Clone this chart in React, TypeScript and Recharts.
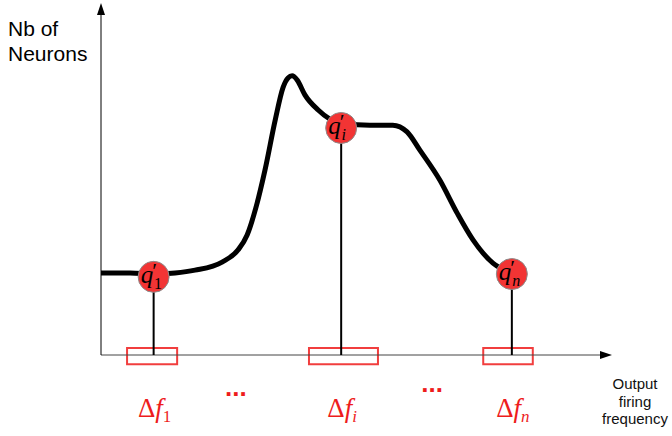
import React from "react";
import {
  ComposedChart,
  Line,
  Scatter,
  XAxis,
  YAxis,
  ReferenceLine,
  ReferenceArea,
  ReferenceDot,
} from "recharts";

// distribution of neurons over output firing frequency (arbitrary units)
const freq = [
  0, 5.7, 10.6, 14.5, 18.4, 23.7, 26.8, 28.6, 30.3, 32.1, 34.1, 35.6, 36.6,
  37.4, 38.4, 39.9, 42.5, 44.8, 47.7, 52.6, 57.1, 59.9, 62.4, 66.3, 69.7,
  72.8, 76.7, 80.4,
];
const neurons = [
  23.3, 23.3, 23.0, 23.3, 24.1, 26.4, 29.8, 34.1, 41.8, 52.6, 66.8, 75.9,
  78.7, 79.3, 78.1, 73.9, 69.6, 67.0, 65.6, 65.3, 65.3, 63.4, 58.2, 49.7,
  40.3, 32.7, 26.1, 23.3,
];

// sampled quantiles q'_1, q'_i, q'_n
const qSub = ["1", "i", "n"];
const qFreq = [10.3, 47.0, 80.4];
const qCount = [22.2, 64.5, 23.0];

// frequency bins Δf around each sample
const binLo = [5.1, 40.7, 74.8];
const binHi = [14.9, 54.2, 84.5];

// positions of the "..." between bins
const gapFreq = [26.4, 64.8];

const curve = freq.map((x, i) => ({ x, y: neurons[i] }));
const samples = qFreq.map((x, i) => ({ x, y: qCount[i], sub: qSub[i] }));

const RED = "#ee1c1c";
const SERIF = "'Liberation Serif', 'DejaVu Serif', serif";
const SANS = "'Liberation Sans', Arial, sans-serif";

const SampleDot = (props: any) => {
  const { cx, cy, payload } = props;
  const italicSub = payload.sub !== "1";
  return (
    <g>
      <circle cx={cx} cy={cy} r={15.5} fill="#f23434" stroke="#8c8c8c" strokeWidth={1} />
      <text x={cx - 13} y={cy + 6} fontFamily={SERIF} fill="#000">
        <tspan fontStyle="italic" fontSize={25}>q</tspan>
        <tspan dx={-1} dy={-5} fontSize={22}>′</tspan>
        <tspan dx={-3} dy={11} fontSize={16} fontStyle={italicSub ? "italic" : "normal"}>
          {payload.sub}
        </tspan>
      </text>
    </g>
  );
};

const binLabel = (sub: string) => (props: any) => {
  const { cx, cy } = props;
  return (
    <text x={cx + 1} y={cy + 62} textAnchor="middle" fontFamily={SERIF} fontSize={27} fill={RED}>
      <tspan>Δ</tspan>
      <tspan fontStyle="italic">f</tspan>
      <tspan dy={5} fontSize={17} fontStyle={sub === "1" ? "normal" : "italic"}>
        {sub}
      </tspan>
    </text>
  );
};

const gapDots = (dy: number) => (props: any) => {
  const { cx, cy } = props;
  return (
    <text x={cx} y={cy + dy} textAnchor="middle" fontFamily={SANS} fontWeight="bold" fontSize={26} fill={RED}>
      ...
    </text>
  );
};

const xArrow = (props: any) => {
  const { cx, cy } = props;
  return (
    <g>
      <polygon points={`${cx},${cy} ${cx - 12},${cy - 4} ${cx - 12},${cy + 4}`} fill="#000" />
      <text textAnchor="middle" fontFamily={SANS} fontSize={15} fill="#111">
        <tspan x={cx + 23} y={cy + 34}>Output</tspan>
        <tspan x={cx + 23} y={cy + 52}>firing</tspan>
        <tspan x={cx + 23} y={cy + 69}>frequency</tspan>
      </text>
    </g>
  );
};

const yArrow = (props: any) => {
  const { cx, cy } = props;
  return (
    <g>
      <polygon points={`${cx},${cy} ${cx - 4},${cy + 12} ${cx + 4},${cy + 12}`} fill="#000" />
      <text fontFamily={SANS} fontSize={21} fill="#000">
        <tspan x={cx - 93} y={cy + 33}>Nb of</tspan>
        <tspan x={cx - 93} y={cy + 58}>Neurons</tspan>
      </text>
    </g>
  );
};

export default function App() {
  return (
    <div style={{ position: "absolute", left: 0, top: 0, background: "#fff" }}>
      <ComposedChart
        width={672}
        height={436}
        margin={{ top: 3, right: 60, left: 101, bottom: 81 }}
      >
        <XAxis type="number" dataKey="x" domain={[0, 100]} hide />
        <YAxis type="number" dataKey="y" domain={[0, 100]} hide width={0} />

        {/* axes with arrowheads */}
        <ReferenceLine segment={[{ x: 0, y: 0 }, { x: 98, y: 0 }]} stroke="#444" strokeWidth={1} ifOverflow="visible" />
        <ReferenceLine segment={[{ x: 0, y: 0 }, { x: 0, y: 97 }]} stroke="#000" strokeWidth={1} ifOverflow="visible" />
        <ReferenceDot x={100} y={0} shape={xArrow} ifOverflow="visible" />
        <ReferenceDot x={0} y={100} shape={yArrow} ifOverflow="visible" />

        {/* frequency bins */}
        {binLo.map((lo, i) => (
          <ReferenceArea
            key={`bin-${i}`}
            x1={lo}
            x2={binHi[i]}
            y1={-2.6}
            y2={2.0}
            fill="none"
            fillOpacity={0}
            stroke={RED}
            strokeWidth={2}
            strokeOpacity={0.85}
            ifOverflow="visible"
          />
        ))}

        {/* stems from each sample down to the axis */}
        {samples.map((s, i) => (
          <ReferenceLine
            key={`stem-${i}`}
            segment={[{ x: s.x, y: s.y }, { x: s.x, y: 0 }]}
            stroke="#000"
            strokeWidth={2}
            ifOverflow="visible"
          />
        ))}

        <Line
          data={curve}
          dataKey="y"
          type="monotone"
          stroke="#000"
          strokeWidth={5}
          dot={false}
          activeDot={false}
          isAnimationActive={false}
        />
        <Scatter data={samples} dataKey="y" shape={SampleDot} isAnimationActive={false} />

        {qSub.map((sub, i) => (
          <ReferenceDot key={`lab-${i}`} x={qFreq[i]} y={0} shape={binLabel(sub)} ifOverflow="visible" />
        ))}
        <ReferenceDot x={gapFreq[0]} y={0} shape={gapDots(41)} ifOverflow="visible" />
        <ReferenceDot x={gapFreq[1]} y={0} shape={gapDots(37)} ifOverflow="visible" />
      </ComposedChart>
    </div>
  );
}
